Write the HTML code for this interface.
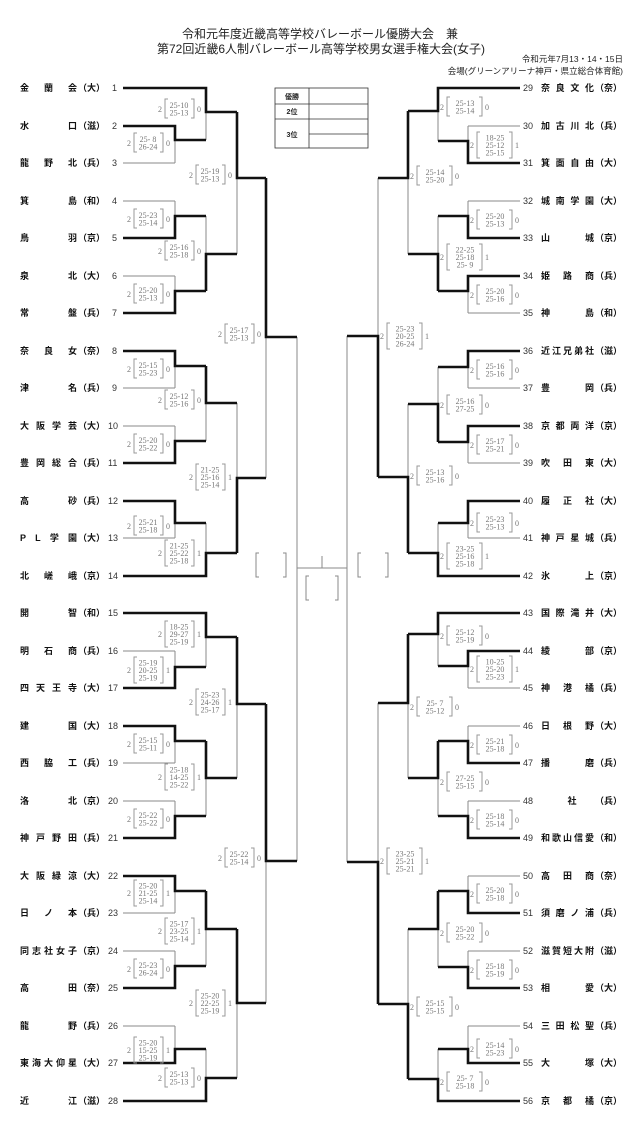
<!DOCTYPE html>
<html><head><meta charset="utf-8"><style>
html,body{margin:0;padding:0;background:#fff;}
svg{display:block;}
.t{font-family:"Liberation Sans","Noto Sans CJK JP",sans-serif;font-size:9px;font-weight:bold;fill:#111;}
.n{font-family:"Liberation Sans",sans-serif;font-size:9px;fill:#333;}
.s text{font-family:"Liberation Serif","Noto Serif CJK SC",serif;font-size:8px;fill:#777;}
.s .c{text-anchor:middle;}
.s path{fill:none;stroke:#999;stroke-width:1;}
.hd{font-family:"Liberation Sans","Noto Sans CJK JP",sans-serif;fill:#222;}
</style></head><body>
<svg width="640" height="1137" viewBox="0 0 640 1137" xmlns="http://www.w3.org/2000/svg">
<text class="hd" x="320" y="38" font-size="12" text-anchor="middle">令和元年度近畿高等学校バレーボール優勝大会　兼</text>
<text class="hd" x="321" y="53" font-size="12" text-anchor="middle">第72回近畿6人制バレーボール高等学校男女選手権大会(女子)</text>
<text class="hd" x="623" y="62" font-size="8.5" text-anchor="end">令和元年7月13・14・15日</text>
<text class="hd" x="623" y="74" font-size="8.5" text-anchor="end">会場(グリーンアリーナ神戸・県立総合体育館)</text>

<g fill="none" stroke="#333" stroke-width="0.8">
<rect x="275" y="88" width="93" height="60"/>
<path d="M275 104H368M275 119H368M309 88V148M309 134H368"/>
</g>
<g class="hd" font-size="7" font-weight="bold" text-anchor="middle">
<text x="292" y="99">優勝</text><text x="292" y="114">2位</text><text x="292" y="137">3位</text>
</g>

<!-- thin lines -->
<path fill="none" stroke="#8a8a8a" stroke-width="1" d="
M175 126V163M175 201V238M175 276V313M175 351V388M175 426V463M175 501V538M175 651V688M175 726V763M175 801V838M175 876V913M175 951V988M175 1026V1063
M206 88V140M206 216V291M206 366V441M206 523V576M206 613V667M206 741V816M206 891V966M206 1049V1101
M237 112V254M237 403V553M237 637V778M237 929V1078
M266 178V478M266 704V1003
M297 337V861
M123 163H175M123 201H175M123 276H175M123 388H175M123 426H175M123 538H175M123 651H175M123 763H175M123 801H175M123 913H175M123 951H175M123 1026H175
M297 568H347M322 556V568
M468 126V163M468 201V238M468 276V313M468 351V388M468 426V463M468 501V538M468 651V688M468 726V763M468 801V838M468 876V913M468 951V988M468 1026V1063
M438 88V141M438 216V291M438 367V442M438 523V576M438 613V666M438 741V816M438 891V967M438 1049V1101
M408 111V254M408 404V553M408 634V778M408 929V1079
M378 178V477M378 703V1004
M347 336V862
M468 126H520M468 201H520M468 313H520M468 388H520M468 463H520M468 538H520M468 688H520M468 726H520M468 801H520M468 876H520M468 951H520M468 1026H520
M259 553H256V577H259M283 553H286V577H283
M361 553H358V577H361M385 553H388V577H385
M309 576H306V600H309M335 576H338V600H335
"/>

<!-- thick lines -->
<path fill="none" stroke="#111" stroke-width="2.6" stroke-linejoin="miter" d="
M123 126H175V140H206M123 238H175V216H206M123 313H175V291H206M123 351H175V366H206M123 463H175V441H206M123 501H175V523H206
M123 688H175V667H206M123 726H175V741H206M123 838H175V816H206M123 876H175V891H206M123 988H175V966H206M123 1063H175V1049H206
M123 88H206V112H237M206 291V254H237M206 366V403H237M123 576H206V553H237M123 613H206V637H237M206 741V778H237M206 891V929H237M123 1101H206V1078H237
M237 112V178H266M237 553V478H266M237 637V704H266M237 929V1003H266
M266 178V337H297M266 704V861H297
M520 163H468V141H438M520 238H468V216H438M520 276H468V291H438M520 351H468V367H438M520 426H468V442H438M520 501H468V523H438
M520 651H468V666H438M520 763H468V741H438M520 838H468V816H438M520 913H468V891H438M520 988H468V967H438M520 1063H468V1049H438
M520 88H438V111H408M438 291V254H408M438 442V404H408M520 576H438V553H408M520 613H438V634H408M438 741V778H408M438 891V929H408M520 1101H438V1079H408
M408 111V178H378M408 553V477H378M408 634V703H378M408 1079V1004H378
M378 477V336H347M378 1004V862H347
"/>

<!-- left scores -->
<g class="s">
<g transform="translate(175,143)"><text x="-44" y="3" text-anchor="end">2</text><path d="M-38 -10H-41V9H-38M-15 -10H-12V9H-15"/><text class="c" x="-27" y="-1">25- 8</text><text class="c" x="-27" y="6.5">26-24</text><text x="-9" y="3">0</text></g>
<g transform="translate(206,109)"><text x="-44" y="3" text-anchor="end">2</text><path d="M-38 -10H-41V9H-38M-15 -10H-12V9H-15"/><text class="c" x="-27" y="-1">25-10</text><text class="c" x="-27" y="6.5">25-13</text><text x="-9" y="3">0</text></g>
<g transform="translate(175,219)"><text x="-44" y="3" text-anchor="end">2</text><path d="M-38 -10H-41V9H-38M-15 -10H-12V9H-15"/><text class="c" x="-27" y="-1">25-23</text><text class="c" x="-27" y="6.5">25-14</text><text x="-9" y="3">0</text></g>
<g transform="translate(175,294)"><text x="-44" y="3" text-anchor="end">2</text><path d="M-38 -10H-41V9H-38M-15 -10H-12V9H-15"/><text class="c" x="-27" y="-1">25-20</text><text class="c" x="-27" y="6.5">25-13</text><text x="-9" y="3">0</text></g>
<g transform="translate(206,251)"><text x="-44" y="3" text-anchor="end">2</text><path d="M-38 -10H-41V9H-38M-15 -10H-12V9H-15"/><text class="c" x="-27" y="-1">25-16</text><text class="c" x="-27" y="6.5">25-18</text><text x="-9" y="3">0</text></g>
<g transform="translate(237,175)"><text x="-44" y="3" text-anchor="end">2</text><path d="M-38 -10H-41V9H-38M-15 -10H-12V9H-15"/><text class="c" x="-27" y="-1">25-19</text><text class="c" x="-27" y="6.5">25-13</text><text x="-9" y="3">0</text></g>
<g transform="translate(266,334)"><text x="-44" y="3" text-anchor="end">2</text><path d="M-38 -10H-41V9H-38M-15 -10H-12V9H-15"/><text class="c" x="-27" y="-1">25-17</text><text class="c" x="-27" y="6.5">25-13</text><text x="-9" y="3">0</text></g>
<g transform="translate(175,369)"><text x="-44" y="3" text-anchor="end">2</text><path d="M-38 -10H-41V9H-38M-15 -10H-12V9H-15"/><text class="c" x="-27" y="-1">25-15</text><text class="c" x="-27" y="6.5">25-23</text><text x="-9" y="3">0</text></g>
<g transform="translate(175,444)"><text x="-44" y="3" text-anchor="end">2</text><path d="M-38 -10H-41V9H-38M-15 -10H-12V9H-15"/><text class="c" x="-27" y="-1">25-20</text><text class="c" x="-27" y="6.5">25-22</text><text x="-9" y="3">0</text></g>
<g transform="translate(206,400)"><text x="-44" y="3" text-anchor="end">2</text><path d="M-38 -10H-41V9H-38M-15 -10H-12V9H-15"/><text class="c" x="-27" y="-1">25-12</text><text class="c" x="-27" y="6.5">25-16</text><text x="-9" y="3">0</text></g>
<g transform="translate(175,526)"><text x="-44" y="3" text-anchor="end">2</text><path d="M-38 -10H-41V9H-38M-15 -10H-12V9H-15"/><text class="c" x="-27" y="-1">25-21</text><text class="c" x="-27" y="6.5">25-18</text><text x="-9" y="3">0</text></g>
<g transform="translate(206,553)"><text x="-44" y="3" text-anchor="end">2</text><path d="M-38 -13H-41V13H-38M-15 -13H-12V13H-15"/><text class="c" x="-27" y="-4.5">21-25</text><text class="c" x="-27" y="3">25-22</text><text class="c" x="-27" y="10.5">25-18</text><text x="-9" y="3">1</text></g>
<g transform="translate(237,477)"><text x="-44" y="3" text-anchor="end">2</text><path d="M-38 -13H-41V13H-38M-15 -13H-12V13H-15"/><text class="c" x="-27" y="-4.5">21-25</text><text class="c" x="-27" y="3">25-16</text><text class="c" x="-27" y="10.5">25-14</text><text x="-9" y="3">1</text></g>
<g transform="translate(175,670)"><text x="-44" y="3" text-anchor="end">2</text><path d="M-38 -13H-41V13H-38M-15 -13H-12V13H-15"/><text class="c" x="-27" y="-4.5">25-19</text><text class="c" x="-27" y="3">20-25</text><text class="c" x="-27" y="10.5">25-19</text><text x="-9" y="3">1</text></g>
<g transform="translate(206,634)"><text x="-44" y="3" text-anchor="end">2</text><path d="M-38 -13H-41V13H-38M-15 -13H-12V13H-15"/><text class="c" x="-27" y="-4.5">18-25</text><text class="c" x="-27" y="3">29-27</text><text class="c" x="-27" y="10.5">25-19</text><text x="-9" y="3">1</text></g>
<g transform="translate(175,744)"><text x="-44" y="3" text-anchor="end">2</text><path d="M-38 -10H-41V9H-38M-15 -10H-12V9H-15"/><text class="c" x="-27" y="-1">25-15</text><text class="c" x="-27" y="6.5">25-11</text><text x="-9" y="3">0</text></g>
<g transform="translate(175,819)"><text x="-44" y="3" text-anchor="end">2</text><path d="M-38 -10H-41V9H-38M-15 -10H-12V9H-15"/><text class="c" x="-27" y="-1">25-22</text><text class="c" x="-27" y="6.5">25-22</text><text x="-9" y="3">0</text></g>
<g transform="translate(206,777)"><text x="-44" y="3" text-anchor="end">2</text><path d="M-38 -13H-41V13H-38M-15 -13H-12V13H-15"/><text class="c" x="-27" y="-4.5">25-18</text><text class="c" x="-27" y="3">14-25</text><text class="c" x="-27" y="10.5">25-22</text><text x="-9" y="3">1</text></g>
<g transform="translate(237,702)"><text x="-44" y="3" text-anchor="end">2</text><path d="M-38 -13H-41V13H-38M-15 -13H-12V13H-15"/><text class="c" x="-27" y="-4.5">25-23</text><text class="c" x="-27" y="3">24-26</text><text class="c" x="-27" y="10.5">25-17</text><text x="-9" y="3">1</text></g>
<g transform="translate(266,858)"><text x="-44" y="3" text-anchor="end">2</text><path d="M-38 -10H-41V9H-38M-15 -10H-12V9H-15"/><text class="c" x="-27" y="-1">25-22</text><text class="c" x="-27" y="6.5">25-14</text><text x="-9" y="3">0</text></g>
<g transform="translate(175,893)"><text x="-44" y="3" text-anchor="end">2</text><path d="M-38 -13H-41V13H-38M-15 -13H-12V13H-15"/><text class="c" x="-27" y="-4.5">25-20</text><text class="c" x="-27" y="3">21-25</text><text class="c" x="-27" y="10.5">25-14</text><text x="-9" y="3">1</text></g>
<g transform="translate(175,969)"><text x="-44" y="3" text-anchor="end">2</text><path d="M-38 -10H-41V9H-38M-15 -10H-12V9H-15"/><text class="c" x="-27" y="-1">25-23</text><text class="c" x="-27" y="6.5">26-24</text><text x="-9" y="3">0</text></g>
<g transform="translate(206,931)"><text x="-44" y="3" text-anchor="end">2</text><path d="M-38 -13H-41V13H-38M-15 -13H-12V13H-15"/><text class="c" x="-27" y="-4.5">25-17</text><text class="c" x="-27" y="3">23-25</text><text class="c" x="-27" y="10.5">25-14</text><text x="-9" y="3">1</text></g>
<g transform="translate(175,1050)"><text x="-44" y="3" text-anchor="end">2</text><path d="M-38 -13H-41V13H-38M-15 -13H-12V13H-15"/><text class="c" x="-27" y="-4.5">25-20</text><text class="c" x="-27" y="3">15-25</text><text class="c" x="-27" y="10.5">25-19</text><text x="-9" y="3">1</text></g>
<g transform="translate(206,1078)"><text x="-44" y="3" text-anchor="end">2</text><path d="M-38 -10H-41V9H-38M-15 -10H-12V9H-15"/><text class="c" x="-27" y="-1">25-13</text><text class="c" x="-27" y="6.5">25-13</text><text x="-9" y="3">0</text></g>
<g transform="translate(237,1003)"><text x="-44" y="3" text-anchor="end">2</text><path d="M-38 -13H-41V13H-38M-15 -13H-12V13H-15"/><text class="c" x="-27" y="-4.5">25-20</text><text class="c" x="-27" y="3">22-25</text><text class="c" x="-27" y="10.5">25-19</text><text x="-9" y="3">1</text></g>
</g>

<!-- right scores -->
<g class="s">
<g transform="translate(468,145)"><text x="2" y="3">2</text><path d="M12 -13H9V13H12M41 -13H44V13H41"/><text class="c" x="27" y="-4.5">18-25</text><text class="c" x="27" y="3">25-12</text><text class="c" x="27" y="10.5">25-15</text><text x="47" y="3">1</text></g>
<g transform="translate(438,107)"><text x="2" y="3">2</text><path d="M12 -10H9V9H12M41 -10H44V9H41"/><text class="c" x="27" y="-1">25-13</text><text class="c" x="27" y="6.5">25-14</text><text x="47" y="3">0</text></g>
<g transform="translate(468,220)"><text x="2" y="3">2</text><path d="M12 -10H9V9H12M41 -10H44V9H41"/><text class="c" x="27" y="-1">25-20</text><text class="c" x="27" y="6.5">25-13</text><text x="47" y="3">0</text></g>
<g transform="translate(468,295)"><text x="2" y="3">2</text><path d="M12 -10H9V9H12M41 -10H44V9H41"/><text class="c" x="27" y="-1">25-20</text><text class="c" x="27" y="6.5">25-16</text><text x="47" y="3">0</text></g>
<g transform="translate(438,257)"><text x="2" y="3">2</text><path d="M12 -13H9V13H12M41 -13H44V13H41"/><text class="c" x="27" y="-4.5">22-25</text><text class="c" x="27" y="3">25-18</text><text class="c" x="27" y="10.5">25- 9</text><text x="47" y="3">1</text></g>
<g transform="translate(408,176)"><text x="2" y="3">2</text><path d="M12 -10H9V9H12M41 -10H44V9H41"/><text class="c" x="27" y="-1">25-14</text><text class="c" x="27" y="6.5">25-20</text><text x="47" y="3">0</text></g>
<g transform="translate(378,336)"><text x="2" y="3">2</text><path d="M12 -13H9V13H12M41 -13H44V13H41"/><text class="c" x="27" y="-4.5">25-23</text><text class="c" x="27" y="3">20-25</text><text class="c" x="27" y="10.5">26-24</text><text x="47" y="3">1</text></g>
<g transform="translate(468,370)"><text x="2" y="3">2</text><path d="M12 -10H9V9H12M41 -10H44V9H41"/><text class="c" x="27" y="-1">25-16</text><text class="c" x="27" y="6.5">25-16</text><text x="47" y="3">0</text></g>
<g transform="translate(468,445)"><text x="2" y="3">2</text><path d="M12 -10H9V9H12M41 -10H44V9H41"/><text class="c" x="27" y="-1">25-17</text><text class="c" x="27" y="6.5">25-21</text><text x="47" y="3">0</text></g>
<g transform="translate(438,405)"><text x="2" y="3">2</text><path d="M12 -10H9V9H12M41 -10H44V9H41"/><text class="c" x="27" y="-1">25-16</text><text class="c" x="27" y="6.5">27-25</text><text x="47" y="3">0</text></g>
<g transform="translate(468,523)"><text x="2" y="3">2</text><path d="M12 -10H9V9H12M41 -10H44V9H41"/><text class="c" x="27" y="-1">25-23</text><text class="c" x="27" y="6.5">25-13</text><text x="47" y="3">0</text></g>
<g transform="translate(438,556)"><text x="2" y="3">2</text><path d="M12 -13H9V13H12M41 -13H44V13H41"/><text class="c" x="27" y="-4.5">23-25</text><text class="c" x="27" y="3">25-16</text><text class="c" x="27" y="10.5">25-18</text><text x="47" y="3">1</text></g>
<g transform="translate(408,476)"><text x="2" y="3">2</text><path d="M12 -10H9V9H12M41 -10H44V9H41"/><text class="c" x="27" y="-1">25-13</text><text class="c" x="27" y="6.5">25-16</text><text x="47" y="3">0</text></g>
<g transform="translate(468,669)"><text x="2" y="3">2</text><path d="M12 -13H9V13H12M41 -13H44V13H41"/><text class="c" x="27" y="-4.5">10-25</text><text class="c" x="27" y="3">25-20</text><text class="c" x="27" y="10.5">25-23</text><text x="47" y="3">1</text></g>
<g transform="translate(438,636)"><text x="2" y="3">2</text><path d="M12 -10H9V9H12M41 -10H44V9H41"/><text class="c" x="27" y="-1">25-12</text><text class="c" x="27" y="6.5">25-19</text><text x="47" y="3">0</text></g>
<g transform="translate(468,745)"><text x="2" y="3">2</text><path d="M12 -10H9V9H12M41 -10H44V9H41"/><text class="c" x="27" y="-1">25-21</text><text class="c" x="27" y="6.5">25-18</text><text x="47" y="3">0</text></g>
<g transform="translate(468,820)"><text x="2" y="3">2</text><path d="M12 -10H9V9H12M41 -10H44V9H41"/><text class="c" x="27" y="-1">25-18</text><text class="c" x="27" y="6.5">25-14</text><text x="47" y="3">0</text></g>
<g transform="translate(438,782)"><text x="2" y="3">2</text><path d="M12 -10H9V9H12M41 -10H44V9H41"/><text class="c" x="27" y="-1">27-25</text><text class="c" x="27" y="6.5">25-15</text><text x="47" y="3">0</text></g>
<g transform="translate(408,707)"><text x="2" y="3">2</text><path d="M12 -10H9V9H12M41 -10H44V9H41"/><text class="c" x="27" y="-1">25- 7</text><text class="c" x="27" y="6.5">25-12</text><text x="47" y="3">0</text></g>
<g transform="translate(378,861)"><text x="2" y="3">2</text><path d="M12 -13H9V13H12M41 -13H44V13H41"/><text class="c" x="27" y="-4.5">23-25</text><text class="c" x="27" y="3">25-21</text><text class="c" x="27" y="10.5">25-21</text><text x="47" y="3">1</text></g>
<g transform="translate(468,894)"><text x="2" y="3">2</text><path d="M12 -10H9V9H12M41 -10H44V9H41"/><text class="c" x="27" y="-1">25-20</text><text class="c" x="27" y="6.5">25-18</text><text x="47" y="3">0</text></g>
<g transform="translate(468,970)"><text x="2" y="3">2</text><path d="M12 -10H9V9H12M41 -10H44V9H41"/><text class="c" x="27" y="-1">25-18</text><text class="c" x="27" y="6.5">25-19</text><text x="47" y="3">0</text></g>
<g transform="translate(438,933)"><text x="2" y="3">2</text><path d="M12 -10H9V9H12M41 -10H44V9H41"/><text class="c" x="27" y="-1">25-20</text><text class="c" x="27" y="6.5">25-22</text><text x="47" y="3">0</text></g>
<g transform="translate(468,1049)"><text x="2" y="3">2</text><path d="M12 -10H9V9H12M41 -10H44V9H41"/><text class="c" x="27" y="-1">25-14</text><text class="c" x="27" y="6.5">25-23</text><text x="47" y="3">0</text></g>
<g transform="translate(438,1082)"><text x="2" y="3">2</text><path d="M12 -10H9V9H12M41 -10H44V9H41"/><text class="c" x="27" y="-1">25- 7</text><text class="c" x="27" y="6.5">25-18</text><text x="47" y="3">0</text></g>
<g transform="translate(408,1007)"><text x="2" y="3">2</text><path d="M12 -10H9V9H12M41 -10H44V9H41"/><text class="c" x="27" y="-1">25-15</text><text class="c" x="27" y="6.5">25-15</text><text x="47" y="3">0</text></g>
</g>

<!-- left teams -->
<g>
<text class="t" x="20" y="91" textLength="57" lengthAdjust="spacing">金蘭会</text><text class="t" x="78" y="91" textLength="27" lengthAdjust="spacing">（大）</text><text class="n" x="112" y="91">1</text>
<text class="t" x="20" y="129" textLength="57" lengthAdjust="spacing">水口</text><text class="t" x="78" y="129" textLength="27" lengthAdjust="spacing">（滋）</text><text class="n" x="112" y="129">2</text>
<text class="t" x="20" y="166" textLength="57" lengthAdjust="spacing">龍野北</text><text class="t" x="78" y="166" textLength="27" lengthAdjust="spacing">（兵）</text><text class="n" x="112" y="166">3</text>
<text class="t" x="20" y="204" textLength="57" lengthAdjust="spacing">箕島</text><text class="t" x="78" y="204" textLength="27" lengthAdjust="spacing">（和）</text><text class="n" x="112" y="204">4</text>
<text class="t" x="20" y="241" textLength="57" lengthAdjust="spacing">鳥羽</text><text class="t" x="78" y="241" textLength="27" lengthAdjust="spacing">（京）</text><text class="n" x="112" y="241">5</text>
<text class="t" x="20" y="279" textLength="57" lengthAdjust="spacing">泉北</text><text class="t" x="78" y="279" textLength="27" lengthAdjust="spacing">（大）</text><text class="n" x="112" y="279">6</text>
<text class="t" x="20" y="316" textLength="57" lengthAdjust="spacing">常盤</text><text class="t" x="78" y="316" textLength="27" lengthAdjust="spacing">（兵）</text><text class="n" x="112" y="316">7</text>
<text class="t" x="20" y="354" textLength="57" lengthAdjust="spacing">奈良女</text><text class="t" x="78" y="354" textLength="27" lengthAdjust="spacing">（奈）</text><text class="n" x="112" y="354">8</text>
<text class="t" x="20" y="391" textLength="57" lengthAdjust="spacing">津名</text><text class="t" x="78" y="391" textLength="27" lengthAdjust="spacing">（兵）</text><text class="n" x="112" y="391">9</text>
<text class="t" x="20" y="429" textLength="57" lengthAdjust="spacing">大阪学芸</text><text class="t" x="78" y="429" textLength="27" lengthAdjust="spacing">（大）</text><text class="n" x="108" y="429">10</text>
<text class="t" x="20" y="466" textLength="57" lengthAdjust="spacing">豊岡総合</text><text class="t" x="78" y="466" textLength="27" lengthAdjust="spacing">（兵）</text><text class="n" x="108" y="466">11</text>
<text class="t" x="20" y="504" textLength="57" lengthAdjust="spacing">高砂</text><text class="t" x="78" y="504" textLength="27" lengthAdjust="spacing">（兵）</text><text class="n" x="108" y="504">12</text>
<text class="t" x="20" y="541" textLength="57" lengthAdjust="spacing">PL学園</text><text class="t" x="78" y="541" textLength="27" lengthAdjust="spacing">（大）</text><text class="n" x="108" y="541">13</text>
<text class="t" x="20" y="579" textLength="57" lengthAdjust="spacing">北嵯峨</text><text class="t" x="78" y="579" textLength="27" lengthAdjust="spacing">（京）</text><text class="n" x="108" y="579">14</text>
<text class="t" x="20" y="616" textLength="57" lengthAdjust="spacing">開智</text><text class="t" x="78" y="616" textLength="27" lengthAdjust="spacing">（和）</text><text class="n" x="108" y="616">15</text>
<text class="t" x="20" y="654" textLength="57" lengthAdjust="spacing">明石商</text><text class="t" x="78" y="654" textLength="27" lengthAdjust="spacing">（兵）</text><text class="n" x="108" y="654">16</text>
<text class="t" x="20" y="691" textLength="57" lengthAdjust="spacing">四天王寺</text><text class="t" x="78" y="691" textLength="27" lengthAdjust="spacing">（大）</text><text class="n" x="108" y="691">17</text>
<text class="t" x="20" y="729" textLength="57" lengthAdjust="spacing">建国</text><text class="t" x="78" y="729" textLength="27" lengthAdjust="spacing">（大）</text><text class="n" x="108" y="729">18</text>
<text class="t" x="20" y="766" textLength="57" lengthAdjust="spacing">西脇工</text><text class="t" x="78" y="766" textLength="27" lengthAdjust="spacing">（兵）</text><text class="n" x="108" y="766">19</text>
<text class="t" x="20" y="804" textLength="57" lengthAdjust="spacing">洛北</text><text class="t" x="78" y="804" textLength="27" lengthAdjust="spacing">（京）</text><text class="n" x="108" y="804">20</text>
<text class="t" x="20" y="841" textLength="57" lengthAdjust="spacing">神戸野田</text><text class="t" x="78" y="841" textLength="27" lengthAdjust="spacing">（兵）</text><text class="n" x="108" y="841">21</text>
<text class="t" x="20" y="879" textLength="57" lengthAdjust="spacing">大阪緑涼</text><text class="t" x="78" y="879" textLength="27" lengthAdjust="spacing">（大）</text><text class="n" x="108" y="879">22</text>
<text class="t" x="20" y="916" textLength="57" lengthAdjust="spacing">日ノ本</text><text class="t" x="78" y="916" textLength="27" lengthAdjust="spacing">（兵）</text><text class="n" x="108" y="916">23</text>
<text class="t" x="20" y="954" textLength="57" lengthAdjust="spacing">同志社女子</text><text class="t" x="78" y="954" textLength="27" lengthAdjust="spacing">（京）</text><text class="n" x="108" y="954">24</text>
<text class="t" x="20" y="991" textLength="57" lengthAdjust="spacing">高田</text><text class="t" x="78" y="991" textLength="27" lengthAdjust="spacing">（奈）</text><text class="n" x="108" y="991">25</text>
<text class="t" x="20" y="1029" textLength="57" lengthAdjust="spacing">龍野</text><text class="t" x="78" y="1029" textLength="27" lengthAdjust="spacing">（兵）</text><text class="n" x="108" y="1029">26</text>
<text class="t" x="20" y="1066" textLength="57" lengthAdjust="spacing">東海大仰星</text><text class="t" x="78" y="1066" textLength="27" lengthAdjust="spacing">（大）</text><text class="n" x="108" y="1066">27</text>
<text class="t" x="20" y="1104" textLength="57" lengthAdjust="spacing">近江</text><text class="t" x="78" y="1104" textLength="27" lengthAdjust="spacing">（滋）</text><text class="n" x="108" y="1104">28</text>
</g>

<!-- right teams -->
<g>
<text class="n" x="523" y="91">29</text><text class="t" x="541" y="91" textLength="53" lengthAdjust="spacing">奈良文化</text><text class="t" x="595" y="91" textLength="27" lengthAdjust="spacing">（奈）</text>
<text class="n" x="523" y="129">30</text><text class="t" x="541" y="129" textLength="53" lengthAdjust="spacing">加古川北</text><text class="t" x="595" y="129" textLength="27" lengthAdjust="spacing">（兵）</text>
<text class="n" x="523" y="166">31</text><text class="t" x="541" y="166" textLength="53" lengthAdjust="spacing">箕面自由</text><text class="t" x="595" y="166" textLength="27" lengthAdjust="spacing">（大）</text>
<text class="n" x="523" y="204">32</text><text class="t" x="541" y="204" textLength="53" lengthAdjust="spacing">城南学園</text><text class="t" x="595" y="204" textLength="27" lengthAdjust="spacing">（大）</text>
<text class="n" x="523" y="241">33</text><text class="t" x="541" y="241" textLength="53" lengthAdjust="spacing">山城</text><text class="t" x="595" y="241" textLength="27" lengthAdjust="spacing">（京）</text>
<text class="n" x="523" y="279">34</text><text class="t" x="541" y="279" textLength="53" lengthAdjust="spacing">姫路商</text><text class="t" x="595" y="279" textLength="27" lengthAdjust="spacing">（兵）</text>
<text class="n" x="523" y="316">35</text><text class="t" x="541" y="316" textLength="53" lengthAdjust="spacing">神島</text><text class="t" x="595" y="316" textLength="27" lengthAdjust="spacing">（和）</text>
<text class="n" x="523" y="354">36</text><text class="t" x="541" y="354" textLength="53" lengthAdjust="spacing">近江兄弟社</text><text class="t" x="595" y="354" textLength="27" lengthAdjust="spacing">（滋）</text>
<text class="n" x="523" y="391">37</text><text class="t" x="541" y="391" textLength="53" lengthAdjust="spacing">豊岡</text><text class="t" x="595" y="391" textLength="27" lengthAdjust="spacing">（兵）</text>
<text class="n" x="523" y="429">38</text><text class="t" x="541" y="429" textLength="53" lengthAdjust="spacing">京都両洋</text><text class="t" x="595" y="429" textLength="27" lengthAdjust="spacing">（京）</text>
<text class="n" x="523" y="466">39</text><text class="t" x="541" y="466" textLength="53" lengthAdjust="spacing">吹田東</text><text class="t" x="595" y="466" textLength="27" lengthAdjust="spacing">（大）</text>
<text class="n" x="523" y="504">40</text><text class="t" x="541" y="504" textLength="53" lengthAdjust="spacing">履正社</text><text class="t" x="595" y="504" textLength="27" lengthAdjust="spacing">（大）</text>
<text class="n" x="523" y="541">41</text><text class="t" x="541" y="541" textLength="53" lengthAdjust="spacing">神戸星城</text><text class="t" x="595" y="541" textLength="27" lengthAdjust="spacing">（兵）</text>
<text class="n" x="523" y="579">42</text><text class="t" x="541" y="579" textLength="53" lengthAdjust="spacing">氷上</text><text class="t" x="595" y="579" textLength="27" lengthAdjust="spacing">（京）</text>
<text class="n" x="523" y="616">43</text><text class="t" x="541" y="616" textLength="53" lengthAdjust="spacing">国際滝井</text><text class="t" x="595" y="616" textLength="27" lengthAdjust="spacing">（大）</text>
<text class="n" x="523" y="654">44</text><text class="t" x="541" y="654" textLength="53" lengthAdjust="spacing">綾部</text><text class="t" x="595" y="654" textLength="27" lengthAdjust="spacing">（京）</text>
<text class="n" x="523" y="691">45</text><text class="t" x="541" y="691" textLength="53" lengthAdjust="spacing">神港橘</text><text class="t" x="595" y="691" textLength="27" lengthAdjust="spacing">（兵）</text>
<text class="n" x="523" y="729">46</text><text class="t" x="541" y="729" textLength="53" lengthAdjust="spacing">日根野</text><text class="t" x="595" y="729" textLength="27" lengthAdjust="spacing">（大）</text>
<text class="n" x="523" y="766">47</text><text class="t" x="541" y="766" textLength="53" lengthAdjust="spacing">播磨</text><text class="t" x="595" y="766" textLength="27" lengthAdjust="spacing">（兵）</text>
<text class="n" x="523" y="804">48</text><text class="t" x="572" y="804" text-anchor="middle">社</text><text class="t" x="595" y="804" textLength="27" lengthAdjust="spacing">（兵）</text>
<text class="n" x="523" y="841">49</text><text class="t" x="541" y="841" textLength="53" lengthAdjust="spacing">和歌山信愛</text><text class="t" x="595" y="841" textLength="27" lengthAdjust="spacing">（和）</text>
<text class="n" x="523" y="879">50</text><text class="t" x="541" y="879" textLength="53" lengthAdjust="spacing">高田商</text><text class="t" x="595" y="879" textLength="27" lengthAdjust="spacing">（奈）</text>
<text class="n" x="523" y="916">51</text><text class="t" x="541" y="916" textLength="53" lengthAdjust="spacing">須磨ノ浦</text><text class="t" x="595" y="916" textLength="27" lengthAdjust="spacing">（兵）</text>
<text class="n" x="523" y="954">52</text><text class="t" x="541" y="954" textLength="53" lengthAdjust="spacing">滋賀短大附</text><text class="t" x="595" y="954" textLength="27" lengthAdjust="spacing">（滋）</text>
<text class="n" x="523" y="991">53</text><text class="t" x="541" y="991" textLength="53" lengthAdjust="spacing">相愛</text><text class="t" x="595" y="991" textLength="27" lengthAdjust="spacing">（大）</text>
<text class="n" x="523" y="1029">54</text><text class="t" x="541" y="1029" textLength="53" lengthAdjust="spacing">三田松聖</text><text class="t" x="595" y="1029" textLength="27" lengthAdjust="spacing">（兵）</text>
<text class="n" x="523" y="1066">55</text><text class="t" x="541" y="1066" textLength="53" lengthAdjust="spacing">大塚</text><text class="t" x="595" y="1066" textLength="27" lengthAdjust="spacing">（大）</text>
<text class="n" x="523" y="1104">56</text><text class="t" x="541" y="1104" textLength="53" lengthAdjust="spacing">京都橘</text><text class="t" x="595" y="1104" textLength="27" lengthAdjust="spacing">（京）</text>
</g>
</svg>
</body></html>
